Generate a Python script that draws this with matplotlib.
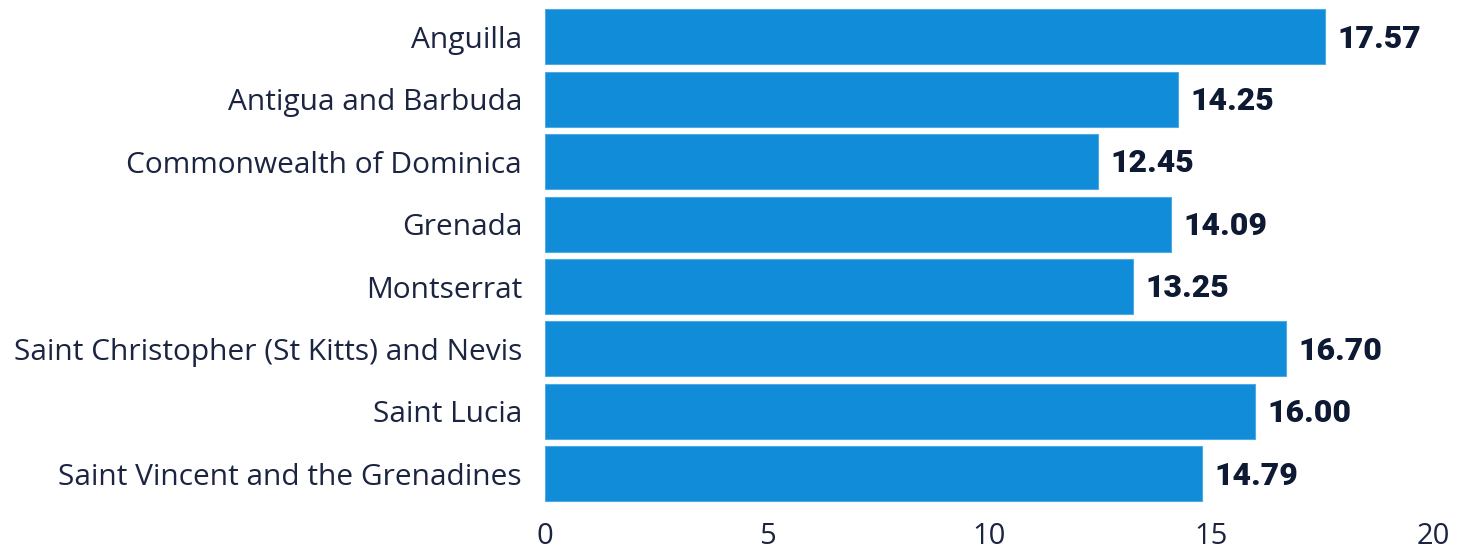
import matplotlib
matplotlib.use("Agg")
import matplotlib.pyplot as plt

categories = ["Anguilla", "Antigua and Barbuda", "Commonwealth of Dominica", "Grenada",
              "Montserrat", "Saint Christopher (St Kitts) and Nevis", "Saint Lucia",
              "Saint Vincent and the Grenadines"]
values = [17.57, 14.25, 12.45, 14.09, 13.25, 16.70, 16.00, 14.79]
xticks = [0, 5, 10, 15, 20]

fig = plt.figure(figsize=(14.67, 5.49), dpi=100)
ax = fig.add_axes([0.3715, 0.080, 0.6053, 0.910])

y = list(range(len(categories)))
ax.barh(y, values, height=0.88, color="#108CD8", edgecolor="#4FA9E3", linewidth=0.8)
ax.set_ylim(len(categories) - 0.5, -0.5)
ax.set_xlim(0, 20)
ax.set_yticks(y)
ax.set_yticklabels(categories, fontsize=21.5, color="#1B2440", family="Open Sans")
ax.set_xticks(xticks)
ax.set_xticklabels([str(t) for t in xticks], fontsize=21, color="#1B2440", family="Open Sans")
ax.tick_params(axis="both", length=0)
ax.tick_params(axis="y", pad=16.5)
ax.tick_params(axis="x", pad=12)
for s in ax.spines.values():
    s.set_visible(False)

for yi, v in zip(y, values):
    ax.text(v + 0.28, yi + 0.03, f"{v:.2f}", va="center", ha="left", fontsize=23,
            fontweight="black", family="Roboto", color="#0E1A33")

fig.savefig("out.png", dpi=100)
